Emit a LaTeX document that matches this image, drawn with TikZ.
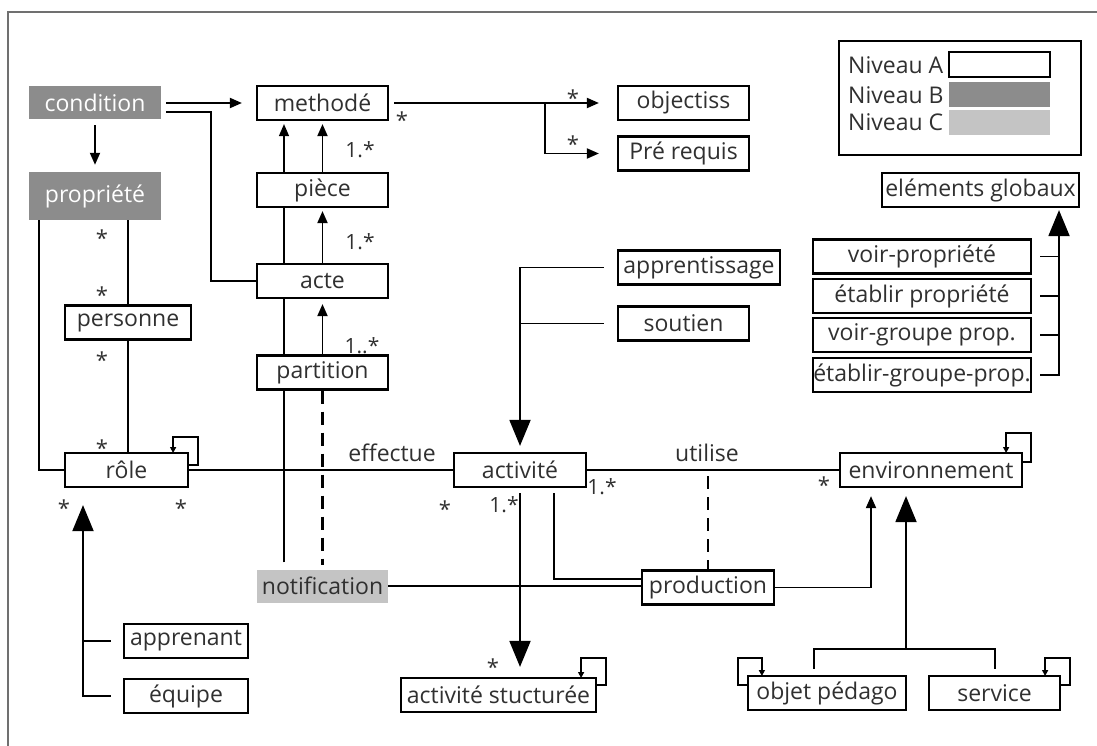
\documentclass[tikz,border=0pt]{standalone}
\usepackage{fontspec}
\setmainfont{Open Sans}
\usetikzlibrary{arrows.meta,backgrounds,calc}
\definecolor{darkfill}{HTML}{8C8C8C}
\definecolor{lightfill}{HTML}{C4C4C4}
\definecolor{txt}{HTML}{303030}
\definecolor{framec}{HTML}{707070}
\begin{document}
\begin{tikzpicture}[x=1pt,y=-1pt,
  every node/.style={text=txt, font=\fontsize{23}{27}\selectfont},
  box/.style={draw=black, line width=2.2pt, fill=white, minimum width=#1, minimum height=34pt, inner sep=0pt},
  gbox/.style={fill=darkfill, text=white, minimum width=#1, minimum height=33pt, inner sep=0pt},
  conn/.style={line width=1.9pt, black},
  thinl/.style={line width=1.3pt, black},
  sa/.style={-{Triangle[length=12pt,width=10pt]}},
  ba/.style={-{Triangle[length=26pt,width=21pt]}},
  loopar/.style={line width=1.6pt, black, -{Triangle[length=6pt,width=6pt]}},
  lbl/.style={font=\fontsize{21}{24}\selectfont, inner sep=0pt},
  st/.style={font=\fontsize{22}{24}\selectfont, inner sep=0pt},
  dsh/.style={line width=2.2pt, black, dash pattern=on 13pt off 8pt}]
\useasboundingbox (0,0) rectangle (1097,746);
% frame
\draw[framec, line width=1.2pt] (8,746) -- (8,12) -- (1097,12);

% nodes
\node[gbox=132] (cond) at (95,103) {condition};
\node[gbox=132, minimum height=48pt] (prop) at (95,196) {propriété};
\node[box=131] (meth) at (322.5,103) {methodé};
\node[box=131] (piece) at (322.5,190) {pièce};
\node[box=131] (acte) at (322.5,281) {acte};
\node[box=131] (part) at (322.5,372.5) {partition};
\node[gbox=131, fill=lightfill, text=txt] (notif) at (322.5,586) {notification};
\node[box=131] (obj) at (683.5,103) {objectiss};
\node[box=131] (prereq) at (683.5,153.5) {Pré requis};
\node[box=126] (pers) at (128,322.5) {personne};
\node[box=123] (role) at (126.5,470) {rôle};
\node[box=124] (appr) at (186,641) {apprenant};
\node[box=124] (equipe) at (186,696) {équipe};
\node[box=132] (act) at (520,470) {activité};
\node[box=162] (apprt) at (699,267.5) {apprentissage};
\node[box=131] (sout) at (683.5,323.5) {soutien};
\node[box=195] (actst) at (498.5,695) {activité stucturée};
\node[box=132] (prod) at (708,587.5) {production};
\node[box=182] (env) at (931,470) {environnement};
\node[box=158] (objped) at (827,693) {objet pédago};
\node[box=131] (serv) at (994.5,693) {service};
\node[box=197] (glob) at (980.5,190) {eléments globaux};
\node[box=218] (v1) at (922,256.5) {voir-propriété};
\node[box=218] (v2) at (922,296) {établir propriété};
\node[box=218] (v3) at (922,335) {voir-groupe prop.};
\node[box=218] (v4) at (922,375) {établir-groupe-prop.};

% legend
\node[draw=black, line width=2.2pt, minimum width=242pt, minimum height=114pt, inner sep=0pt] (leg) at (960,98) {};
\node[anchor=west, inner sep=0pt] (lga) at (848,65) {Niveau A};
\node[anchor=west, inner sep=0pt] (lgb) at (848,95) {Niveau B};
\node[anchor=west, inner sep=0pt] (lgc) at (848,122) {Niveau C};
\node[draw=black, line width=1.6pt, fill=white, minimum width=101pt, minimum height=25pt, inner sep=0pt] (swa) at (999.5,64.5) {};
\node[fill=darkfill, minimum width=101pt, minimum height=25pt, inner sep=0pt] (swb) at (999.5,94.5) {};
\node[fill=lightfill, minimum width=101pt, minimum height=25pt, inner sep=0pt] (swc) at (999.5,123) {};

% multiplicity and association labels
\node[st] (s1) at (402,120) {*};
\node[st] (s2) at (573,98) {*};
\node[st] (s3) at (573,144) {*};
\node[lbl] (m1) at (360,150) {1.*};
\node[lbl] (m2) at (360,242) {1.*};
\node[lbl] (m3) at (362,346) {1..*};
\node[st] (s4) at (102,238) {*};
\node[st] (s5) at (102,295) {*};
\node[st] (s6) at (102,360) {*};
\node[st] (s7) at (102,448) {*};
\node[st] (s8) at (64,508) {*};
\node[st] (s9) at (181,508) {*};
\node[inner sep=0pt] (eff) at (392,453) {effectue};
\node[st] (s10) at (445,509) {*};
\node[lbl] (m4) at (504,505) {1.*};
\node[lbl] (m5) at (602,487) {1.*};
\node[inner sep=0pt] (uti) at (707,453) {utilise};
\node[st] (s11) at (824,485) {*};
\node[st] (s12) at (493,667) {*};

\coordinate (br1) at (545,103);
\coordinate (jn) at (906,649);

\begin{pgfonlayer}{background}
% condition
\draw[conn, sa, shorten <=5pt, shorten >=14pt] (cond.east) -- (meth.west);
\draw[conn, shorten <=5pt] ([yshift=-9pt]cond.east) -- ++(50,0) |- (acte.west);
\draw[conn, sa, shorten <=5.5pt, shorten >=7pt] (cond.south) -- (prop.north);
% methode
\draw[conn, sa, shorten <=5pt, shorten >=18pt] (meth.east) -- (obj.west);
\draw[conn, sa, shorten >=18pt] (br1) |- (prereq.west);
\draw[conn, sa, shorten >=3pt] (piece.north) -- (meth.south);
\draw[thinl, sa, shorten <=7pt, shorten >=3pt] ([xshift=-38.5pt]notif.north) -- ([xshift=-38.5pt]meth.south);
\draw[conn, sa, shorten >=3pt] (acte.north) -- (piece.south);
\draw[conn, sa, shorten >=5pt] (part.north) -- (acte.south);
\draw[dsh, shorten >=4pt] (part.south) -- (notif.north);
% propriete / personne / role
\draw[conn] ([xshift=-56pt]prop.south) |- (role.west);
\draw[conn] (pers.north |- prop.south) -- (pers.north);
\draw[conn] (pers.south) -- (pers.south |- role.north);
\draw[loopar] ([yshift=5pt]role.east) -- ++(9,0) -- ++(0,-28) -- ++(-25,0) -- ++(0,16);
\draw[conn] (role.east) -- (act.west);
\draw[conn, ba, shorten >=17pt] ([xshift=-12pt]equipe.west) -| ([xshift=-43.5pt]role.south);
\draw[conn] ([xshift=-12pt]appr.west) -- ++(-29,0);
% activite
\draw[conn, ba, shorten >=6pt] ([xshift=-13pt]apprt.west) -| (act.north);
\draw[conn] ([xshift=-13pt]sout.west) -- (act.north |- sout.west);
\draw[conn, ba, shorten <=5pt, shorten >=10pt] (act.south) -- (act.south |- actst.north);
\draw[loopar] ([yshift=10pt]actst.east) -- ++(9,0) -- ++(0,-27) -- ++(-25,0) -- ++(0,20);
\draw[conn] (act.east) -- (env.west);
\draw[dsh, shorten <=6pt] (prod.north |- act.east) -- (prod.north);
\draw[conn, shorten <=5pt] ([xshift=34pt]act.south) |- ([yshift=8.5pt]prod.west);
\draw[conn] (notif.east) -- (notif.east -| prod.west);
\draw[conn, sa, shorten >=8pt] (prod.east) -| ([xshift=-60pt]env.south);
% environnement
\draw[loopar] ([yshift=8pt]env.east) -- ++(8,0) -- ++(0,-29) -- ++(-25,0) -- ++(0,20);
\draw[conn] ([shift={(-13pt,6pt)}]objped.north) |- (jn) -| ([shift={(0.5pt,6pt)}]serv.north);
\draw[conn, ba, shorten >=8pt] (jn) -- (jn |- env.south);
\draw[loopar] ([yshift=8pt]objped.west) -- ++(-9,0) -- ++(0,-27) -- ++(24,0) -- ++(0,18);
\draw[loopar] ([yshift=8pt]serv.east) -- ++(9,0) -- ++(0,-27) -- ++(-25,0) -- ++(0,18);
% globaux
\draw[conn, ba, shorten >=2pt] ([xshift=8pt]v4.east) -| ([xshift=78.5pt]glob.south);
\draw[conn] ([xshift=8pt]v1.east) -- ++(20,0);
\draw[conn] ([xshift=8pt]v2.east) -- ++(20,0);
\draw[conn] ([xshift=8pt]v3.east) -- ++(20,0);
\end{pgfonlayer}
\end{tikzpicture}
\end{document}
